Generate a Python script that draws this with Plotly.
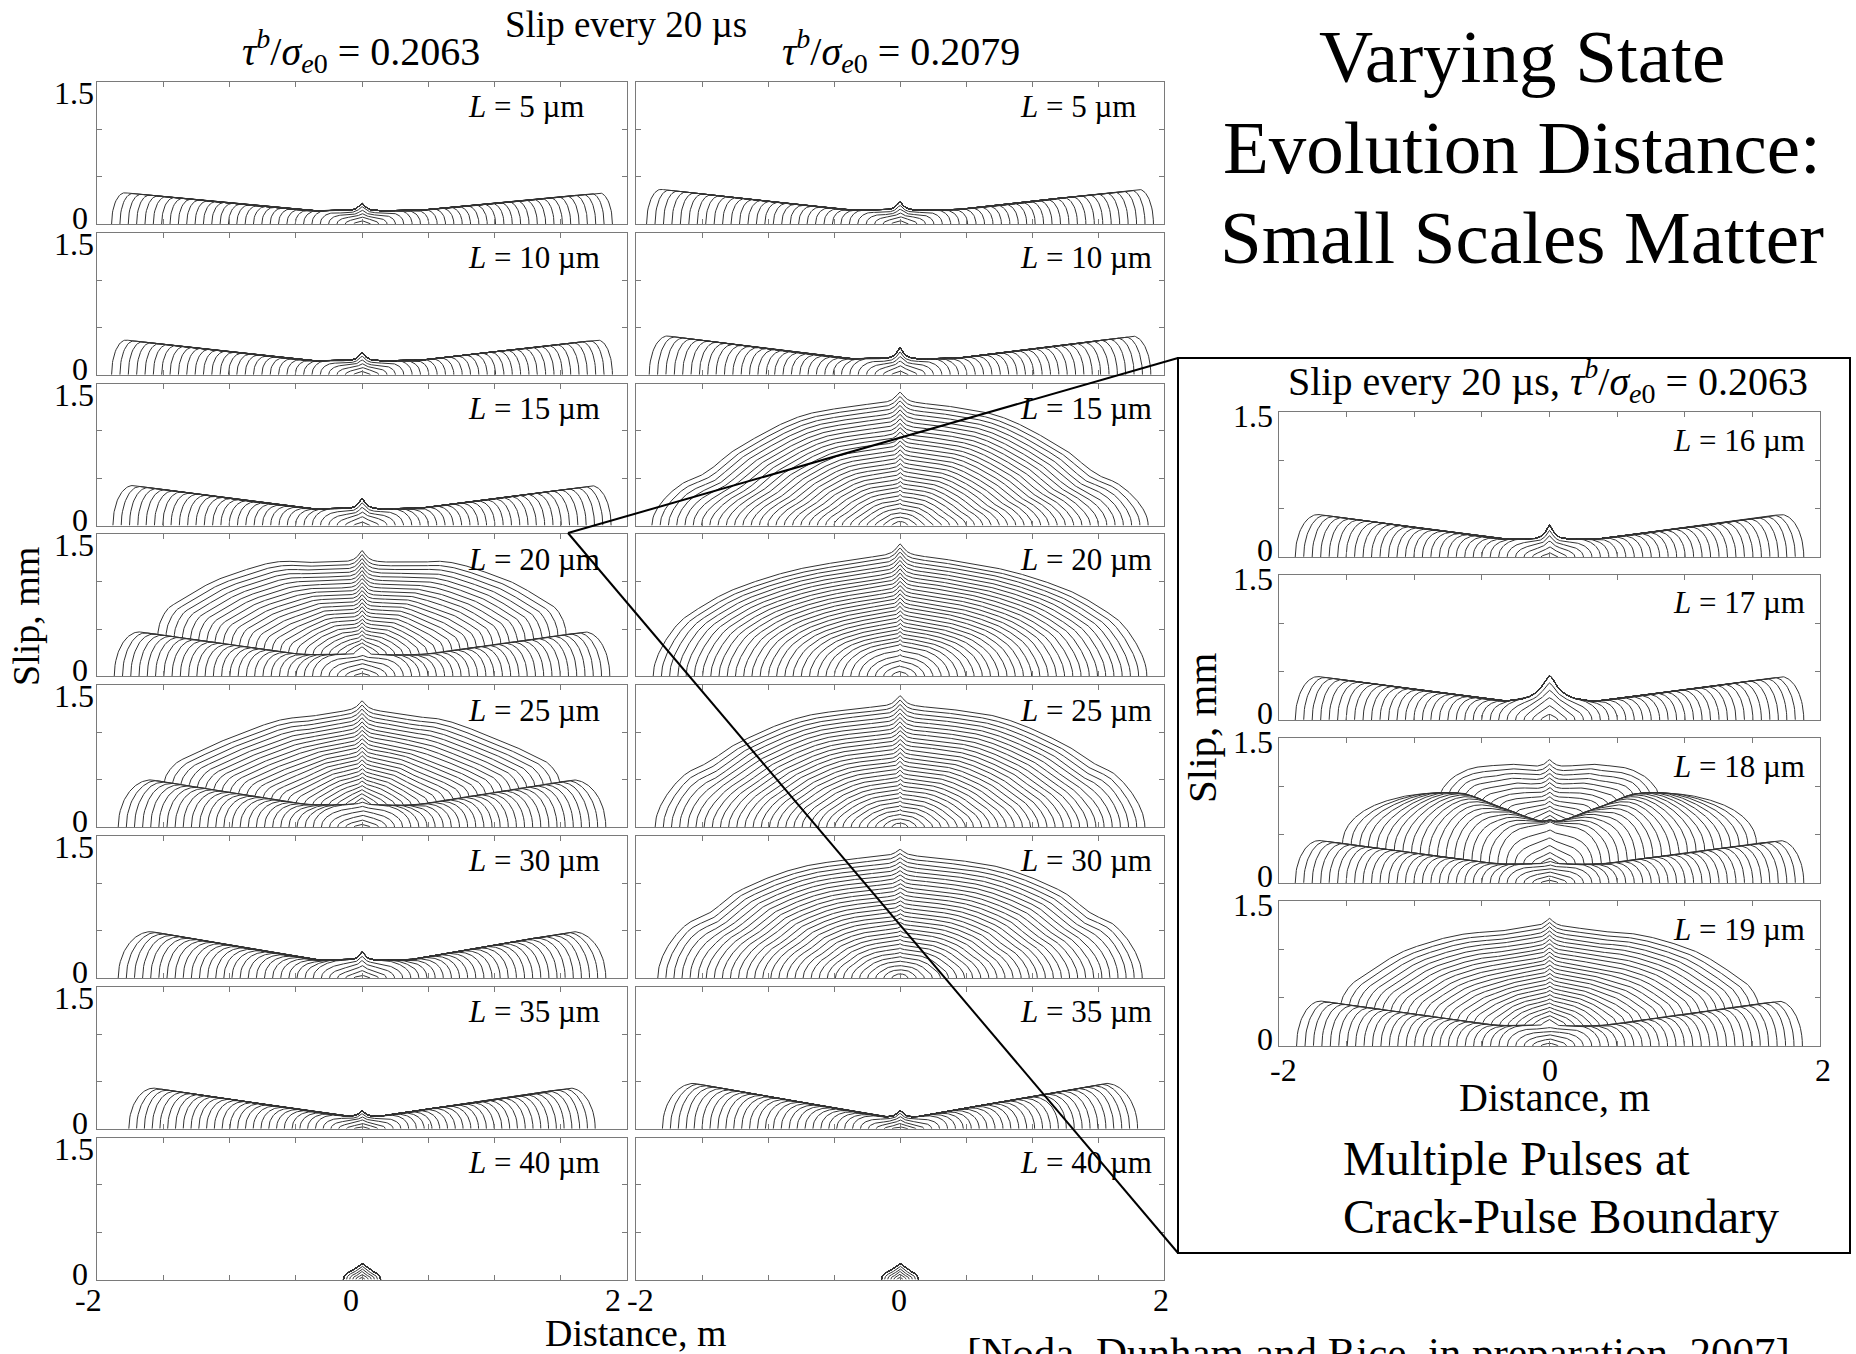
import numpy as np
import plotly.graph_objects as go

FIG_W, FIG_H = 1856, 1354
FONT = "Liberation Serif, Times New Roman, serif"
N_SNAP = 30        # slip snapshots, one every 20 µs
NUC_RAMP = 6       # snapshots over which a pulse builds up at the hypocentre

# State evolution distance L (µm) shown in each panel
col_a_L = [5, 10, 15, 20, 25, 30, 35, 40]   # tau_b/sigma_e0 = 0.2063
col_b_L = [5, 10, 15, 20, 25, 30, 35, 40]   # tau_b/sigma_e0 = 0.2079
inset_L = [16, 17, 18, 19]                  # tau_b/sigma_e0 = 0.2063

# Slip layers making up each panel.
# pulse: slip left behind a front travelling out to layer_front
# crack: self-similar expanding crack whose final profile is given
layer_panel = ["a5", "a10", "a15", "a20", "a20", "a25", "a25", "a30", "a35", "a40",
               "b5", "b10", "b15", "b15", "b20", "b20", "b25", "b25", "b30", "b30", "b35", "b40",
               "c16", "c17", "c18", "c18", "c18", "c19", "c19"]
layer_kind = ["pulse", "pulse", "pulse", "pulse", "crack", "pulse", "crack", "pulse", "pulse", "crack",
              "pulse", "pulse", "pulse", "crack", "pulse", "crack", "pulse", "crack", "pulse", "crack", "pulse", "crack",
              "pulse", "pulse", "pulse", "pulse", "crack", "pulse", "crack"]
layer_smooth = [False, False, False, False, True, False, True, False, False, True,
                False, False, False, True, False, True, False, True, False, True, False, True,
                False, False, False, True, True, False, True]
layer_start = [0, 0, 0, 0, 5, 0, 6, 0, 0, 0,
               0, 0, 0, 0, 0, 0, 0, 0, 0, 0, 0, 0,
               0, 0, 0, 6, 17, 0, 5]
layer_stop = [30, 30, 30, 30, 30, 30, 30, 30, 30, 6,
              30, 30, 30, 30, 30, 30, 30, 30, 30, 30, 30, 6,
              30, 30, 30, 30, 30, 30, 30]
layer_front = [1.89, 1.89, 1.88, 1.87, 1.54, 1.84, 1.49, 1.84, 1.76, 0.14,
               1.92, 1.90, 1.88, 1.88, 1.87, 1.87, 1.855, 1.855, 1.835, 1.835, 1.80, 0.14,
               1.88, 1.88, 1.88, 1.53, 0.80, 1.87, 1.54]
layer_width = [0.10, 0.11, 0.15, 0.19, 0.10, 0.25, 0.12, 0.25, 0.19, 0.04,
               0.11, 0.14, 0.25, 0.30, 0.25, 0.25, 0.25, 0.28, 0.22, 0.28, 0.24, 0.04,
               0.17, 0.17, 0.18, 0.55, 0.10, 0.18, 0.10]
layer_env_x = [
    [0, 0.40, 1.79], [0, 0.40, 1.78], [0, 0.40, 1.73],
    [0, 0.45, 1.68], [0, 0.51, 1.03, 1.54],
    [0, 0.40, 1.59], [0, 0.50, 0.99, 1.49],
    [0, 0.35, 1.59], [0, 0.12, 1.57], [0, 0.04, 0.09, 0.14],
    [0, 0.40, 1.81], [0, 0.40, 1.76],
    [0, 1.40, 1.63], [0, 0.63, 1.25, 1.55, 1.88],
    [0, 0.40, 1.62], [0, 0.62, 1.25, 1.87],
    [0, 1.40, 1.60], [0, 0.62, 1.24, 1.55, 1.855],
    [0, 1.40, 1.60], [0, 0.61, 1.22, 1.50, 1.835],
    [0, 0.12, 1.56], [0, 0.04, 0.09, 0.14],
    [0, 0.35, 1.71], [0, 0.35, 1.71],
    [0, 0.38, 1.70], [0, 0.35, 0.65, 1.20, 1.53], [0, 0.27, 0.53, 0.80],
    [0, 0.38, 1.69], [0, 0.51, 1.03, 1.54],
]
layer_env_y = [
    [0.14, 0.14, 0.33], [0.148, 0.148, 0.367], [0.177, 0.177, 0.423],
    [0.23, 0.23, 0.47], [0.98, 0.97, 0.71, 0.22],
    [0.235, 0.235, 0.50], [1.00, 0.90, 0.58, 0.15],
    [0.19, 0.19, 0.49], [0.13, 0.13, 0.43], [0.15, 0.12, 0.08, 0.06],
    [0.147, 0.147, 0.366], [0.17, 0.17, 0.41],
    [0.0, 0.0, 0.05], [1.30, 1.20, 0.80, 0.47, 0.28],
    [0.08, 0.08, 0.10], [1.20, 1.09, 0.83, 0.30],
    [0.0, 0.0, 0.05], [1.28, 1.20, 0.88, 0.58, 0.35],
    [0.0, 0.0, 0.05], [1.29, 1.21, 0.92, 0.62, 0.38],
    [0.125, 0.125, 0.48], [0.15, 0.12, 0.08, 0.06],
    [0.185, 0.185, 0.44], [0.196, 0.196, 0.45],
    [0.196, 0.196, 0.44], [0.43, 0.58, 0.68, 0.55, 0.50], [0.57, 0.49, 0.32, 0.08],
    [0.21, 0.21, 0.465], [1.03, 0.94, 0.67, 0.14],
]
layer_cusp_h = [0.08, 0.088, 0.112, 0.04, 0.08, 0.03, 0.07, 0.085, 0.06, 0.02,
                0.088, 0.12, 0.0, 0.11, 0.0, 0.12, 0.0, 0.11, 0.0, 0.07, 0.07, 0.02,
                0.145, 0.264, 0.03, 0.0, 0.05, 0.02, 0.06]
layer_cusp_w = [0.045, 0.045, 0.045, 0.045, 0.06, 0.045, 0.06, 0.04, 0.04, 0.03,
                0.045, 0.045, 0.045, 0.06, 0.045, 0.06, 0.045, 0.06, 0.045, 0.06, 0.04, 0.03,
                0.05, 0.11, 0.045, 0.05, 0.06, 0.045, 0.06]

# normalised shape of the slip cusp at the hypocentre
CUSP_U = [0, 0.15, 0.35, 0.6, 1.0, 1.5, 2.2, 3.0]
CUSP_V = [1, 0.93, 0.72, 0.5, 0.28, 0.13, 0.04, 0]


def rounding(u):
    u = np.clip(u, 0.0, 1.0)
    return np.sqrt(1.0 - (1.0 - u) ** 2)


def pchip(xk, yk, x):
    """Shape-preserving cubic through the profile points (flat at the centre)."""
    xk = np.asarray(xk, float)
    yk = np.asarray(yk, float)
    h = np.diff(xk)
    d = np.diff(yk) / h
    m = np.zeros(len(xk))
    for i in range(1, len(xk) - 1):
        if d[i - 1] * d[i] > 0:
            w1 = 2 * h[i] + h[i - 1]
            w2 = h[i] + 2 * h[i - 1]
            m[i] = (w1 + w2) / (w1 / d[i - 1] + w2 / d[i])
    m[-1] = d[-1]
    x = np.clip(x, xk[0], xk[-1])
    j = np.clip(np.searchsorted(xk, x, side="right") - 1, 0, len(xk) - 2)
    t = (x - xk[j]) / h[j]
    h00 = 2 * t ** 3 - 3 * t ** 2 + 1
    h10 = t ** 3 - 2 * t ** 2 + t
    h01 = -2 * t ** 3 + 3 * t ** 2
    h11 = t ** 3 - t ** 2
    return h00 * yk[j] + h10 * h[j] * m[j] + h01 * yk[j + 1] + h11 * h[j] * m[j + 1]


def envelope(xa, i):
    if layer_smooth[i]:
        s = pchip(layer_env_x[i], layer_env_y[i], xa)
    else:
        s = np.interp(xa, layer_env_x[i], layer_env_y[i])
    if layer_cusp_h[i] > 0:
        s = s + layer_cusp_h[i] * np.interp(xa / layer_cusp_w[i], CUSP_U, CUSP_V)
    return s


def layer_extent(i, k):
    s0, s1 = layer_start[i], layer_stop[i]
    if k <= s0:
        return 0.0, 0.0, 0.0
    frac = min((k - s0) / (s1 - s0), 1.0)
    if layer_kind[i] == "pulse":
        return layer_front[i] * frac, layer_width[i], frac
    return layer_front[i] * frac, layer_width[i] * frac, frac


def layer_slip(x, i, k):
    a, we, frac = layer_extent(i, k)
    xa = np.abs(x)
    if a <= 0:
        return np.zeros_like(x)
    if layer_kind[i] == "pulse":
        amp = min(1.0, (k - layer_start[i]) / NUC_RAMP)
        s = amp * envelope(xa, i) * rounding((a - xa) / we)
        s[xa >= a] = 0.0
    else:
        xs = xa / frac
        s = frac * envelope(xs, i) * rounding((layer_front[i] - xs) / layer_width[i])
        s[xs >= layer_front[i]] = 0.0
    return s


BASE_X = np.linspace(-2, 2, 501)
FINE_X = np.linspace(-0.16, 0.16, 81)
THETA = np.linspace(0, np.pi / 2, 14)


def panel_curves(pid):
    idx = [i for i, p in enumerate(layer_panel) if p == pid]
    xs_all, ys_all = [], []
    for k in range(1, N_SNAP + 1):
        extras, amax = [], 0.0
        for i in idx:
            a, we, _ = layer_extent(i, k)
            if a <= 0:
                continue
            amax = max(amax, a)
            d = a - we * (1 - np.cos(THETA))
            d = d[d > 0]
            extras += [d, -d]
        if amax <= 0:
            continue
        x = np.concatenate([BASE_X[np.abs(BASE_X) < amax], FINE_X[np.abs(FINE_X) < amax],
                            *extras, [-amax, amax]])
        x = np.unique(np.round(x, 5))
        y = np.zeros_like(x)
        for i in idx:
            y = y + layer_slip(x, i, k)
        xs_all += list(np.round(x, 4)) + [None]
        ys_all += list(np.round(y, 4)) + [None]
    return xs_all, ys_all


# ---- panel geometry (pixels) ----
def px_x(p):
    return p / FIG_W


def px_y(p):
    return 1 - p / FIG_H


panels = []
ROW_TOP0, ROW_PITCH, ROW_H = 82, 150.8, 142
for r, L in enumerate(col_a_L):
    panels.append((f"a{L}", 97, 627, ROW_TOP0 + ROW_PITCH * r, ROW_H, L, "a"))
for r, L in enumerate(col_b_L):
    panels.append((f"b{L}", 636, 1164, ROW_TOP0 + ROW_PITCH * r, ROW_H, L, "b"))
for r, L in enumerate(inset_L):
    panels.append((f"c{L}", 1279, 1820, 412 + 163 * r, 145, L, "c"))

fig = go.Figure()
layout = dict(width=FIG_W, height=FIG_H, margin=dict(l=0, r=0, t=0, b=0),
              paper_bgcolor="white", plot_bgcolor="white", showlegend=False)
annotations = []
FRAME = "#7a7a7a"


def add_text(s, x, y, size, xanchor="center", yanchor="middle", angle=0):
    annotations.append(dict(text=s, x=px_x(x), y=px_y(y), xref="paper", yref="paper",
                            showarrow=False, xanchor=xanchor, yanchor=yanchor, textangle=angle,
                            font=dict(family=FONT, size=size, color="black")))


for j, (pid, x0, x1, top, h, L, col) in enumerate(panels, start=1):
    xs, ys = panel_curves(pid)
    fig.add_trace(go.Scatter(x=xs, y=ys, mode="lines", xaxis=f"x{j}", yaxis=f"y{j}",
                             line=dict(color="#333333", width=1), hoverinfo="skip"))
    ax = dict(showline=True, mirror="ticks", linecolor=FRAME, linewidth=1, ticks="inside",
              ticklen=5, tickcolor=FRAME, showticklabels=False, showgrid=False,
              zeroline=False, fixedrange=True)
    layout[f"xaxis{j}"] = dict(ax, domain=[px_x(x0), px_x(x1)], range=[-2, 2],
                               tickvals=[-1.5, -1, -0.5, 0, 0.5, 1, 1.5], anchor=f"y{j}")
    layout[f"yaxis{j}"] = dict(ax, domain=[px_y(top + h), px_y(top)], range=[0, 1.5],
                               tickvals=[0.5, 1.0], anchor=f"x{j}")
    if col == "a":
        add_text(f"<i>L</i> = {L} µm", 466, top + 25, 31, xanchor="left")
        add_text("1.5", 96, top + 11, 32, xanchor="right")
        add_text("0", 90, top + h - 6, 32, xanchor="right")
    elif col == "b":
        add_text(f"<i>L</i> = {L} µm", 1018, top + 25, 31, xanchor="left")
    else:
        add_text(f"<i>L</i> = {L} µm", 1671, top + 28, 31, xanchor="left")
        add_text("1.5", 1275, top + 4, 32, xanchor="right")
        add_text("0", 1275, top + h - 7, 32, xanchor="right")

# x tick labels
for x, s in [(88, "-2"), (351, "0"), (613, "2"), (640, "-2"), (899, "0"), (1161, "2")]:
    add_text(s, x, 1300, 32)
for x, s in [(1283, "-2"), (1550, "0"), (1823, "2")]:
    add_text(s, x, 1070, 32)

# headings and axis titles
TAU = "<i>τ</i><sup><i>b</i></sup>/<i>σ</i><sub><i>e</i>0</sub>"
add_text("Slip every 20 µs", 626, 25, 37)
add_text(f"{TAU} = 0.2063", 361, 51, 40)
add_text(f"{TAU} = 0.2079", 901, 51, 40)
add_text("Distance, m", 636, 1333, 38)
add_text("Slip, mm", 26, 617, 38, angle=-90)

add_text("Varying State", 1522, 57, 75)
add_text("Evolution Distance:", 1522, 147, 75)
add_text("Small Scales Matter", 1522, 237, 75)

add_text(f"Slip every 20 µs, {TAU} = 0.2063", 1548, 381, 40)
add_text("Slip, mm", 1202, 728, 41, angle=-90)
add_text("Distance, m", 1554, 1097, 40)
add_text("Multiple Pulses at", 1341, 1158, 48, xanchor="left")
add_text("Crack-Pulse Boundary", 1341, 1216, 48, xanchor="left")
add_text("[Noda, Dunham and Rice, in preparation, 2007]", 965, 1352, 43, xanchor="left")

# inset frame and zoom lines
shapes = [
    dict(type="rect", xref="paper", yref="paper", x0=px_x(1178), x1=px_x(1850),
         y0=px_y(1253), y1=px_y(358), line=dict(color="black", width=2)),
    dict(type="line", xref="paper", yref="paper", x0=px_x(568), y0=px_y(533),
         x1=px_x(1178), y1=px_y(358), line=dict(color="black", width=2)),
    dict(type="line", xref="paper", yref="paper", x0=px_x(568), y0=px_y(533),
         x1=px_x(1178), y1=px_y(1253), line=dict(color="black", width=2)),
]

layout["annotations"] = annotations
layout["shapes"] = shapes
fig.update_layout(**layout)
fig.write_html("out.html")
